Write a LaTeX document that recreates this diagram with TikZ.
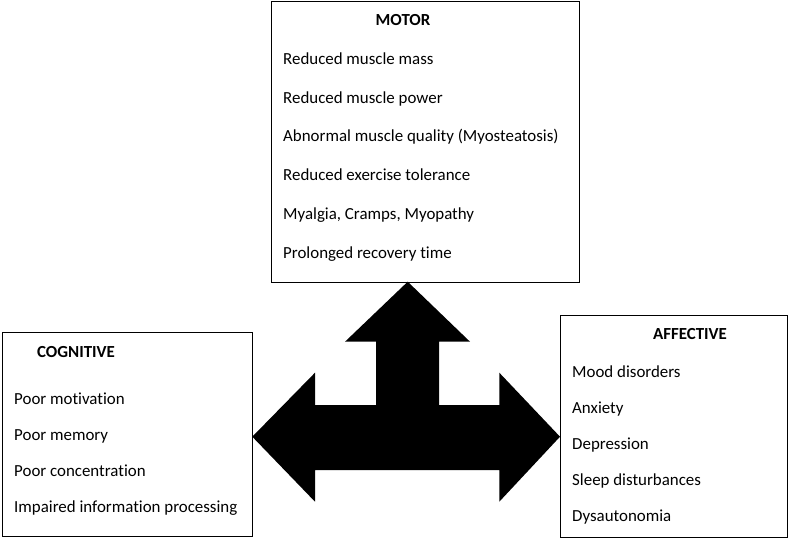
\documentclass[tikz,border=0pt]{standalone}
\usepackage{fontspec}
\setmainfont[Ligatures=NoCommon]{Carlito}
\begin{document}
\begin{tikzpicture}[x=1pt,y=-1pt,
  box/.style={draw=black,line width=1pt},
  item/.style={anchor=west,inner sep=0pt,text height=13.5pt,text depth=1.5pt,font=\fontsize{16.9}{19}\selectfont},
  ttl/.style={inner sep=0pt,text height=13.5pt,text depth=1.5pt,font=\fontsize{16.9}{19}\selectfont\bfseries}]
\useasboundingbox (0,0) rectangle (789,538);
% boxes
\draw[box] (271,1) rectangle (579,282);
\draw[box] (2,332) rectangle (252,536);
\draw[box] (560,315) rectangle (787,537);
% arrow
\fill[black] (407.7,281.7) -- (470,341.7) -- (439,341.7) -- (439,405) -- (499.3,405) -- (499.3,372.7)
  -- (560,436.7) -- (499.3,501.7) -- (499.3,470) -- (315,470) -- (315,501.7) -- (252.3,436.7)
  -- (315,372.7) -- (315,405) -- (376,405) -- (376,341.7) -- (345,341.7) -- cycle;
% motor
\node[ttl] (mt) at (403,19) {MOTOR};
\node[item] (m1) at (283,58) {Reduced muscle mass};
\node[item] (m2) at (283,97) {Reduced muscle power};
\node[item] (m3) at (283,135) {Abnormal muscle quality (Myosteatosis)};
\node[item] (m4) at (283,174) {Reduced exercise tolerance};
\node[item] (m5) at (283,213) {Myalgia, Cramps, Myopathy};
\node[item] (m6) at (283,252) {Prolonged recovery time};
% cognitive
\node[ttl] (ct) at (76,351) {COGNITIVE};
\node[item] (c1) at (14,398) {Poor motivation};
\node[item] (c2) at (14,434) {Poor memory};
\node[item] (c3) at (14,470) {Poor concentration};
\node[item] (c4) at (14,506) {Impaired information processing};
% affective
\node[ttl] (at) at (690,333) {AFFECTIVE};
\node[item] (a1) at (572,371) {Mood disorders};
\node[item] (a2) at (572,407) {Anxiety};
\node[item] (a3) at (572,443) {Depression};
\node[item] (a4) at (572,479) {Sleep disturbances};
\node[item] (a5) at (572,515) {Dysautonomia};
\end{tikzpicture}
\end{document}
